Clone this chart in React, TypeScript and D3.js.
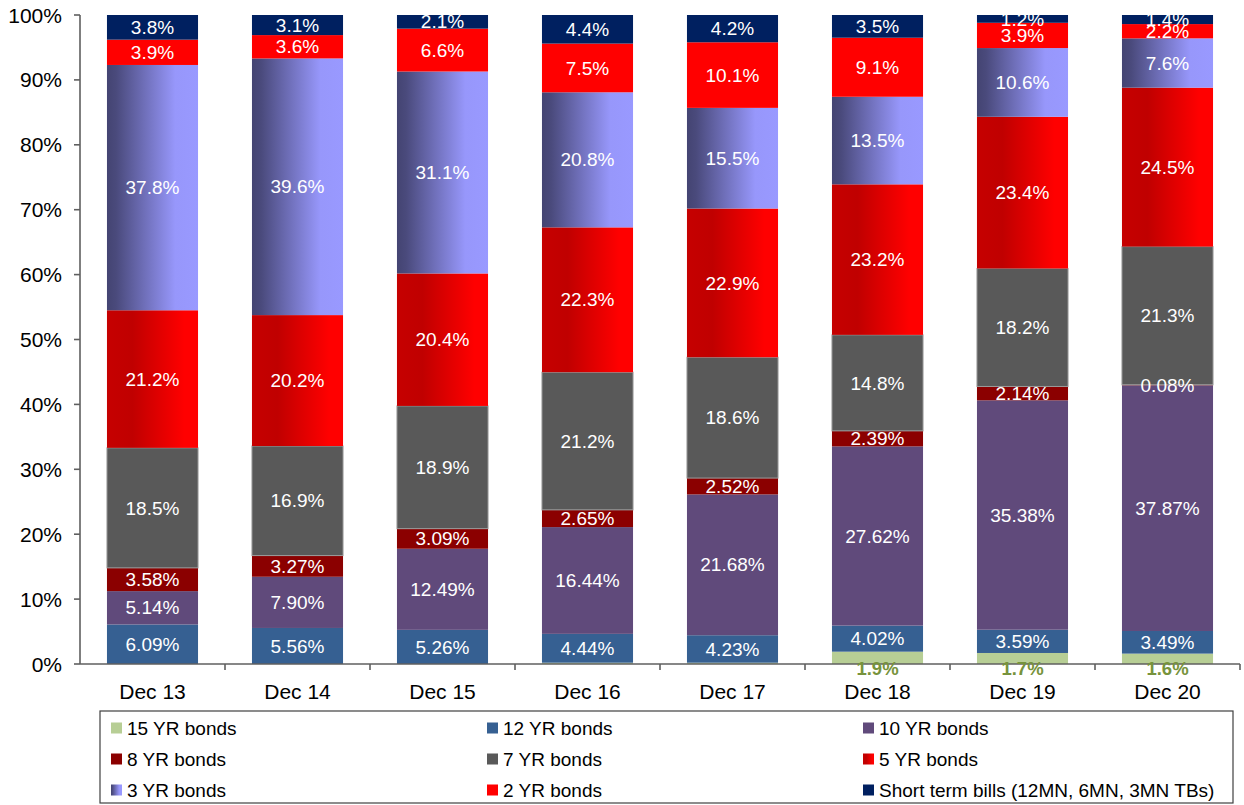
import React from "react";
import * as d3 from "d3";

const categories = ["Dec 13", "Dec 14", "Dec 15", "Dec 16", "Dec 17", "Dec 18", "Dec 19", "Dec 20"];
const seriesNames = [
  "15 YR bonds",
  "12 YR bonds",
  "10 YR bonds",
  "8 YR bonds",
  "7 YR bonds",
  "5 YR bonds",
  "3 YR bonds",
  "2 YR bonds",
  "Short term bills (12MN, 6MN, 3MN TBs)",
];
const yr15 = [0, 0, 0, 0.2, 0.2, 1.9, 1.7, 1.6];
const yr12 = [6.09, 5.56, 5.26, 4.44, 4.23, 4.02, 3.59, 3.49];
const yr10 = [5.14, 7.9, 12.49, 16.44, 21.68, 27.62, 35.38, 37.87];
const yr8 = [3.58, 3.27, 3.09, 2.65, 2.52, 2.39, 2.14, 0.08];
const yr7 = [18.5, 16.9, 18.9, 21.2, 18.6, 14.8, 18.2, 21.3];
const yr5 = [21.2, 20.2, 20.4, 22.3, 22.9, 23.2, 23.4, 24.5];
const yr3 = [37.8, 39.6, 31.1, 20.8, 15.5, 13.5, 10.6, 7.6];
const yr2 = [3.9, 3.6, 6.6, 7.5, 10.1, 9.1, 3.9, 2.2];
const shortBills = [3.8, 3.1, 2.1, 4.4, 4.2, 3.5, 1.2, 1.4];
const yTicks = [0, 0.1, 0.2, 0.3, 0.4, 0.5, 0.6, 0.7, 0.8, 0.9, 1];

const seriesValues = [yr15, yr12, yr10, yr8, yr7, yr5, yr3, yr2, shortBills];
const decimals = [1, 2, 2, 2, 1, 1, 1, 1, 1];
const fills = [
  "#B7CE95",
  "#366092",
  "#604A7B",
  "#8B0000",
  "#595959",
  "url(#grad5)",
  "url(#grad3)",
  "#FF0000",
  "#002060",
];

const FONT = "'Liberation Sans', Arial, sans-serif";

export default function App() {
  const W = 1244;
  const H = 805;
  const left = 80;
  const right = 1240;
  const top = 15;
  const bottom = 664;

  const x = d3.scaleBand<string>().domain(categories).range([left, right]).paddingInner(0.372).paddingOuter(0.186);
  const y = d3.scaleLinear().domain([0, 1]).range([bottom, top]);

  const rows = categories.map((c, i) => {
    const r: any = { cat: c };
    seriesNames.forEach((s, k) => (r[s] = seriesValues[k][i]));
    return r;
  });
  const stack = d3.stack<any>().keys(seriesNames).offset(d3.stackOffsetExpand);
  const stacked = stack(rows);

  const legendCols = [111, 487, 863];
  const legendRows = [728, 759, 790];

  return (
    <svg width={W} height={H} style={{ position: "absolute", left: 0, top: 0 }} fontFamily={FONT}>
      <defs>
        <linearGradient id="grad3" x1="0" y1="0" x2="1" y2="0">
          <stop offset="0" stopColor="#444472" />
          <stop offset="0.1" stopColor="#4a4a7c" />
          <stop offset="0.75" stopColor="#9797fb" />
          <stop offset="1" stopColor="#9999ff" />
        </linearGradient>
        <linearGradient id="grad5" x1="0" y1="0" x2="1" y2="0">
          <stop offset="0" stopColor="#c60000" />
          <stop offset="0.28" stopColor="#c00000" />
          <stop offset="0.85" stopColor="#ff0000" />
          <stop offset="1" stopColor="#ff0000" />
        </linearGradient>
      </defs>
      <rect x={0} y={0} width={W} height={H} fill="#fff" />

      {stacked.map((layer, k) => (
        <g key={layer.key}>
          {layer.map((d, i) => {
            const h = y(d[0]) - y(d[1]);
            if (h <= 0) return null;
            return (
              <rect
                key={i}
                x={x(categories[i])!}
                y={y(d[1])}
                width={x.bandwidth()}
                height={h}
                fill={fills[k]}
                stroke={k === 4 ? "#9a9a9a" : "none"}
                strokeWidth={k === 4 ? 1 : 0}
              />
            );
          })}
        </g>
      ))}

      {/* y axis */}
      <line x1={left} x2={left} y1={top} y2={bottom} stroke="#5f5f5f" strokeWidth={1.6} />
      {yTicks.map((t) => (
        <g key={t}>
          <line x1={left - 6} x2={left} y1={y(t)} y2={y(t)} stroke="#5f5f5f" strokeWidth={1.6} />
          <text x={62} y={y(t)} dy="0.36em" textAnchor="end" fontSize={21} fill="#000">
            {Math.round(t * 100)}%
          </text>
        </g>
      ))}

      {/* x axis */}
      <line x1={left} x2={right} y1={bottom} y2={bottom} stroke="#5f5f5f" strokeWidth={1.6} />
      {categories.map((c, i) => {
        const bx = left + (i + 1) * x.step();
        return <line key={c} x1={bx} x2={bx} y1={bottom} y2={bottom + 6} stroke="#5f5f5f" strokeWidth={1.6} />;
      })}
      {categories.map((c) => (
        <text key={c} x={x(c)! + x.bandwidth() / 2} y={699} textAnchor="middle" fontSize={21} fill="#000">
          {c}
        </text>
      ))}

      {stacked.map((layer, k) =>
        layer.map((d, i) => {
          const v = seriesValues[k][i];
          const cx = x(categories[i])! + x.bandwidth() / 2;
          if (k === 0) {
            if (v < 1) return null;
            return (
              <text key={`l${k}-${i}`} x={cx} y={675} textAnchor="middle" fontSize={18.5} fontWeight="bold" fill="#77933C">
                {v.toFixed(decimals[k])}%
              </text>
            );
          }
          const cy = (y(d[0]) + y(d[1])) / 2;
          return (
            <text key={`l${k}-${i}`} x={cx} y={cy} dy="0.35em" textAnchor="middle" fontSize={19} fill="#fff">
              {v.toFixed(decimals[k])}%
            </text>
          );
        })
      )}

      {/* legend */}
      <rect x={100} y={711} width={1133} height={92} fill="none" stroke="#404040" strokeWidth={1.2} />
      {seriesNames.map((s, k) => {
        const col = k % 3;
        const row = Math.floor(k / 3);
        const lx = legendCols[col];
        const ly = legendRows[row];
        return (
          <g key={s}>
            <rect x={lx} y={ly - 5.5} width={11} height={11} fill={fills[k]} />
            <text x={lx + 16} y={ly} dy="0.36em" fontSize={19} fill="#000">
              {s}
            </text>
          </g>
        );
      })}
    </svg>
  );
}
